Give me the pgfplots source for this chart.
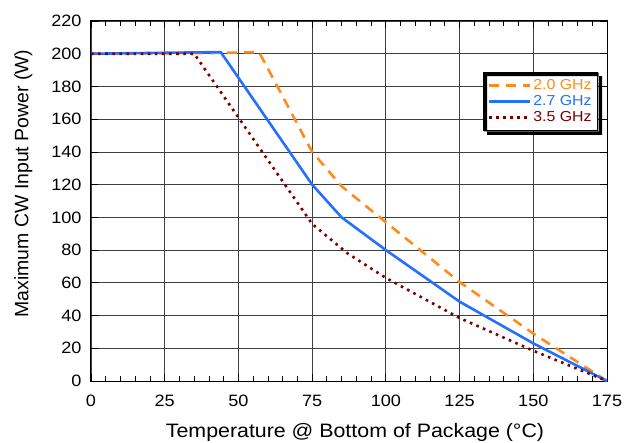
\documentclass[border=0pt]{standalone}
\usepackage{fontspec}
\setmainfont{Liberation Sans}
\newfontfamily\wfont[FakeStretch=1.1]{Liberation Sans}
\usepackage{pgfplots}
\pgfplotsset{compat=1.18}

\definecolor{cOrange}{RGB}{255,140,26}
\definecolor{cBlue}{RGB}{38,112,255}
\definecolor{cRed}{RGB}{122,0,0}

\begin{document}
\begin{tikzpicture}
\begin{axis}[
  name=ax,
  scale only axis,
  width=516bp, height=360bp,
  xmin=0, xmax=175, ymin=0, ymax=220,
  xtick={0,25,...,175}, ytick={0,20,...,220},
  minor x tick num=4,
  tick pos=both, tick align=inside,
  major tick length=7bp, minor tick length=5bp,
  tick style={black, line width=0.8bp},
  grid=major,
  major grid style={black!75, line width=0.8bp},
  axis line style={black, line width=1bp},
  /pgf/number format/assume math mode=true,
  ticklabel style={font=\wfont\fontsize{16.5}{19}\selectfont},
  xticklabel style={yshift=-11bp},
  yticklabel style={xshift=-6bp},
  xlabel={Temperature @ Bottom of Package (°C)},
  xlabel style={font=\wfont\fontsize{19.5}{22}\selectfont,
    at={(axis description cs:0.5116,-0.158)}, anchor=base},
  ylabel={Maximum CW Input Power (W)},
  ylabel style={font=\fontsize{19.5}{22}\selectfont,
    at={(axis description cs:-0.131,0.549)}, anchor=center},
  legend cell align=left,
  legend image code/.code={\draw[#1, line width=2.8bp] (0bp,0bp) -- (41bp,0bp);},
  legend style={name=lg, at={(0.7597,0.8583)}, anchor=north west,
    draw=black, line width=1bp, fill=white,
    font=\wfont\fontsize{14.5}{16}\selectfont,
    inner xsep=4bp, inner ysep=5bp, row sep=0.5bp,
    nodes={inner xsep=2bp, inner ysep=2bp}},
]
\addplot[cOrange, line width=2.6bp, dash pattern=on 10bp off 7bp] coordinates {
  (0,200) (44,200.5) (57,201) (75,140) (85,119) (100,97) (125,60.5) (150,29) (175,0)
};
\addlegendentry{\color{cOrange}2.0 GHz}
\addplot[cBlue, line width=2.6bp] coordinates {
  (0,200) (44,201) (75,120) (85,100) (100,80) (125,48.5) (150,23) (175,0)
};
\addlegendentry{\color{cBlue}2.7 GHz}
\addplot[cRed, line width=2.6bp, dash pattern=on 2.6bp off 4.5bp] coordinates {
  (0,200) (35,200) (75,96) (87,78) (100,63) (125,38.5) (150,18.5) (175,0)
};
\addlegendentry{\color{cRed}3.5 GHz}
\end{axis}
% drop shadow of the legend box
\fill[black, even odd rule]
  ([shift={(4bp,-4bp)}]lg.south west) rectangle ([shift={(4bp,-4bp)}]lg.north east)
  ([shift={(0.5bp,-0.5bp)}]lg.south west) rectangle ([shift={(0.5bp,-0.5bp)}]lg.north east);
\pgfresetboundingbox
\path ([shift={(-91bp,-62bp)}]ax.south west) rectangle ([shift={(19bp,21bp)}]ax.north east);
\end{tikzpicture}
\end{document}
